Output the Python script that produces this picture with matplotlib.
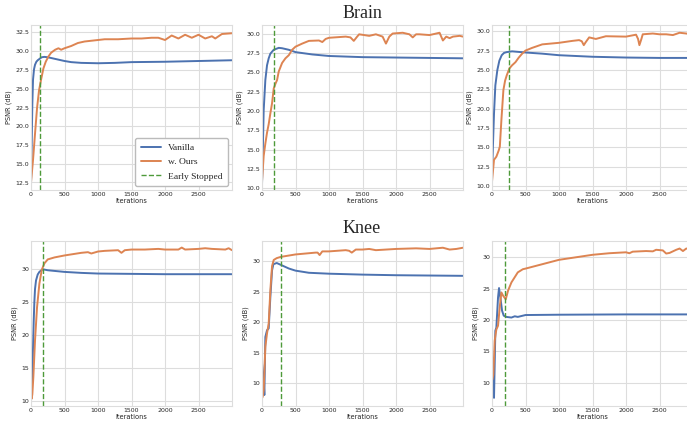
import numpy as np
import matplotlib
matplotlib.use("Agg")
import matplotlib.pyplot as plt
import seaborn as sns

sns.set_style("whitegrid")
plt.rcParams['font.family'] = ['DejaVu Sans']

BLUE = '#4C72B0'
ORANGE = '#DD8452'
GREEN = '#4E9A3A'

# ---- Brain, left ----
it_b1_v = [0, 10, 20, 30, 45, 60, 80, 100, 130, 160, 200, 250, 300, 400, 500, 600, 750, 1000, 1250, 1500, 2000, 2500, 3000]
ps_b1_v = [12.5, 17.5, 23.0, 26.2, 27.6, 28.2, 28.6, 28.8, 29.0, 29.2, 29.25, 29.2, 29.1, 28.9, 28.7, 28.55, 28.45, 28.4, 28.45, 28.55, 28.6, 28.7, 28.8]
it_b1_o = [0, 30, 60, 90, 120, 150, 185, 220, 260, 300, 360, 410, 450, 500, 600, 700, 800, 1000, 1100, 1300, 1500, 1650, 1800, 1900, 2000, 2100, 2200, 2300, 2400, 2500, 2600, 2700, 2750, 2850, 3000]
ps_b1_o = [12.5, 15.5, 19.0, 22.4, 24.8, 26.2, 27.7, 28.6, 29.3, 29.8, 30.2, 30.4, 30.2, 30.4, 30.7, 31.1, 31.3, 31.5, 31.6, 31.6, 31.7, 31.7, 31.8, 31.8, 31.5, 32.1, 31.7, 32.2, 31.8, 32.2, 31.7, 32.0, 31.7, 32.3, 32.4]

# ---- Brain, middle ----
it_b2_v = [0, 10, 25, 50, 75, 100, 125, 175, 250, 300, 400, 500, 750, 1000, 1500, 2000, 2500, 3000]
ps_b2_v = [10.5, 14.0, 20.1, 24.0, 25.9, 26.8, 27.4, 27.9, 28.15, 28.1, 27.9, 27.6, 27.3, 27.1, 26.95, 26.9, 26.85, 26.8]
it_b2_o = [0, 25, 50, 75, 100, 125, 150, 175, 200, 225, 250, 300, 350, 400, 450, 500, 600, 700, 850, 900, 950, 1000, 1250, 1320, 1370, 1420, 1450, 1600, 1700, 1800, 1850, 1900, 1950, 2100, 2200, 2250, 2300, 2350, 2500, 2650, 2700, 2750, 2800, 2850, 2950, 3000]
ps_b2_o = [10.9, 14.2, 15.8, 17.2, 18.3, 19.7, 21.0, 22.9, 23.5, 24.0, 25.1, 26.2, 26.8, 27.2, 27.9, 28.3, 28.7, 29.05, 29.1, 28.9, 29.3, 29.45, 29.6, 29.5, 29.05, 29.6, 29.9, 29.7, 29.9, 29.6, 28.7, 29.6, 30.0, 30.1, 29.9, 29.5, 29.9, 29.9, 29.8, 30.1, 29.1, 29.6, 29.4, 29.6, 29.7, 29.6]

# ---- Brain, right ----
it_b3_v = [0, 15, 30, 50, 80, 110, 145, 180, 220, 300, 500, 750, 1000, 1500, 2000, 2500, 3000]
ps_b3_v = [11.3, 15.5, 19.4, 23.0, 25.0, 26.2, 26.9, 27.2, 27.3, 27.4, 27.25, 27.1, 26.9, 26.7, 26.6, 26.55, 26.55]
it_b3_o = [0, 30, 65, 100, 117, 140, 170, 195, 220, 260, 300, 350, 400, 450, 500, 600, 750, 1000, 1200, 1300, 1340, 1370, 1400, 1450, 1550, 1700, 2000, 2150, 2180, 2200, 2230, 2250, 2400, 2500, 2600, 2700, 2800, 2900, 3000]
ps_b3_o = [10.6, 13.4, 13.8, 14.6, 15.1, 18.5, 22.4, 23.6, 24.3, 25.2, 25.6, 26.0, 26.6, 27.1, 27.5, 27.85, 28.3, 28.5, 28.75, 28.85, 28.7, 28.2, 28.6, 29.2, 29.0, 29.35, 29.3, 29.55, 29.0, 28.2, 29.0, 29.6, 29.7, 29.6, 29.6, 29.5, 29.8, 29.7, 29.55]

# ---- Knee, left ----
it_k1_v = [0, 5, 15, 25, 40, 50, 60, 75, 100, 125, 175, 250, 300, 500, 750, 1000, 1500, 2000, 3000]
ps_k1_v = [16.6, 14.0, 12.3, 16.0, 22.0, 25.0, 27.0, 28.3, 29.2, 29.6, 30.0, 29.85, 29.8, 29.6, 29.45, 29.35, 29.3, 29.25, 29.25]
it_k1_o = [0, 10, 20, 35, 60, 90, 125, 160, 200, 250, 350, 500, 750, 850, 900, 1000, 1100, 1300, 1350, 1400, 1500, 1700, 1900, 2000, 2200, 2250, 2300, 2500, 2600, 2700, 2900, 2950, 3000]
ps_k1_o = [10.6, 10.3, 11.0, 13.6, 19.2, 24.2, 27.8, 29.9, 30.9, 31.5, 31.8, 32.1, 32.5, 32.6, 32.4, 32.7, 32.8, 32.9, 32.5, 32.9, 33.0, 33.0, 33.1, 33.0, 33.0, 33.3, 33.0, 33.1, 33.2, 33.1, 33.0, 33.2, 32.9]

# ---- Knee, middle ----
it_k2_v = [0, 10, 25, 35, 50, 75, 100, 125, 150, 170, 220, 300, 400, 500, 700, 1000, 1500, 2000, 2500, 3000]
ps_k2_v = [13.3, 12.0, 10.5, 8.1, 17.6, 18.7, 19.0, 24.2, 28.5, 29.5, 29.7, 29.3, 28.8, 28.45, 28.1, 27.95, 27.8, 27.7, 27.65, 27.6]
it_k2_o = [0, 10, 25, 50, 75, 100, 125, 150, 175, 220, 280, 500, 800, 830, 860, 900, 1000, 1250, 1300, 1340, 1400, 1500, 1600, 1700, 2000, 2300, 2500, 2700, 2800, 2900, 3000]
ps_k2_o = [7.6, 7.8, 8.9, 16.0, 18.2, 19.8, 25.3, 29.2, 30.2, 30.5, 30.7, 31.1, 31.4, 31.4, 31.0, 31.6, 31.6, 31.8, 31.7, 31.4, 31.9, 31.9, 32.0, 31.8, 32.0, 32.1, 32.0, 32.2, 31.9, 32.0, 32.2]

# ---- Knee, right ----
it_k3_v = [0, 5, 20, 30, 50, 65, 90, 105, 125, 150, 175, 215, 290, 340, 385, 500, 1000, 2000, 3000]
ps_k3_v = [14.0, 14.0, 10.8, 7.6, 18.3, 18.8, 23.6, 25.1, 23.6, 21.5, 20.7, 20.5, 20.4, 20.6, 20.5, 20.8, 20.85, 20.9, 20.9]
it_k3_o = [0, 5, 20, 40, 65, 90, 115, 140, 165, 205, 240, 290, 385, 460, 500, 750, 1000, 1250, 1500, 1750, 2000, 2050, 2100, 2300, 2400, 2450, 2550, 2600, 2650, 2750, 2800, 2850, 2900, 3000]
ps_k3_o = [10.5, 10.5, 11.3, 16.7, 18.5, 19.1, 22.0, 24.4, 23.9, 23.3, 24.7, 26.0, 27.6, 28.1, 28.2, 28.9, 29.6, 30.0, 30.4, 30.65, 30.8, 30.65, 30.9, 31.0, 30.95, 31.2, 31.1, 30.6, 30.7, 31.2, 31.4, 31.0, 31.4, 31.3]

early_stop = [130, 180, 260, 185, 280, 200]
ylims = [(11.5, 33.5), (9.8, 31.1), (9.5, 30.8), (9.2, 34.3), (6.3, 33.3), (6.3, 32.6)]
yticks = [np.arange(12.5, 33, 2.5), np.arange(10, 31, 2.5), np.arange(10, 31, 2.5),
          [10, 15, 20, 25, 30], [10, 15, 20, 25, 30], [10, 15, 20, 25, 30]]

vanilla = [(it_b1_v, ps_b1_v), (it_b2_v, ps_b2_v), (it_b3_v, ps_b3_v),
           (it_k1_v, ps_k1_v), (it_k2_v, ps_k2_v), (it_k3_v, ps_k3_v)]
ours = [(it_b1_o, ps_b1_o), (it_b2_o, ps_b2_o), (it_b3_o, ps_b3_o),
        (it_k1_o, ps_k1_o), (it_k2_o, ps_k2_o), (it_k3_o, ps_k3_o)]

W, H = 687, 423
fig = plt.figure(figsize=(W / 100, H / 100), dpi=100)

lefts = [31, 262, 492]
tops = [25, 241]
bottoms = [190, 406]
aw = 201

for i in range(6):
    r, c = divmod(i, 3)
    ax = fig.add_axes([lefts[c] / W, 1 - bottoms[r] / H, aw / W, (bottoms[r] - tops[r]) / H])
    ax.plot(*vanilla[i], color=BLUE, lw=1.4, label='Vanilla')
    ax.plot(*ours[i], color=ORANGE, lw=1.4, label='w. Ours')
    ax.axvline(early_stop[i], color=GREEN, lw=1.0, ls='--', label='Early Stopped')
    ax.set_xlim(0, 3000)
    ax.set_ylim(*ylims[i])
    ax.set_xticks([0, 500, 1000, 1500, 2000, 2500])
    ax.set_yticks(yticks[i])
    if r == 0:
        ax.set_yticklabels([f'{v:.1f}' for v in yticks[i]])
    ax.tick_params(labelsize=4.5, pad=1.5, length=0)
    ax.set_xlabel('Iterations', fontsize=4.8, labelpad=1)
    ax.set_ylabel('PSNR (dB)', fontsize=4.8, labelpad=2)
    ax.grid(True, color='#dddddd', lw=0.8)
    for s in ax.spines.values():
        s.set_color('#dddddd')
        s.set_linewidth(0.8)
    if i == 0:
        ax.legend(loc='lower right', prop={'family': 'Liberation Serif', 'size': 6.8},
                  handlelength=2.1, borderaxespad=0.4, framealpha=1, edgecolor='#bbbbbb',
                  labelspacing=0.6, borderpad=0.6)

fig.text(362 / W, 1 - 14 / H, 'Brain', ha='center', va='center', family='Liberation Serif', fontsize=13)
fig.text(362 / W, 1 - 228 / H, 'Knee', ha='center', va='center', family='Liberation Serif', fontsize=13)

fig.savefig('out.png', dpi=100)
